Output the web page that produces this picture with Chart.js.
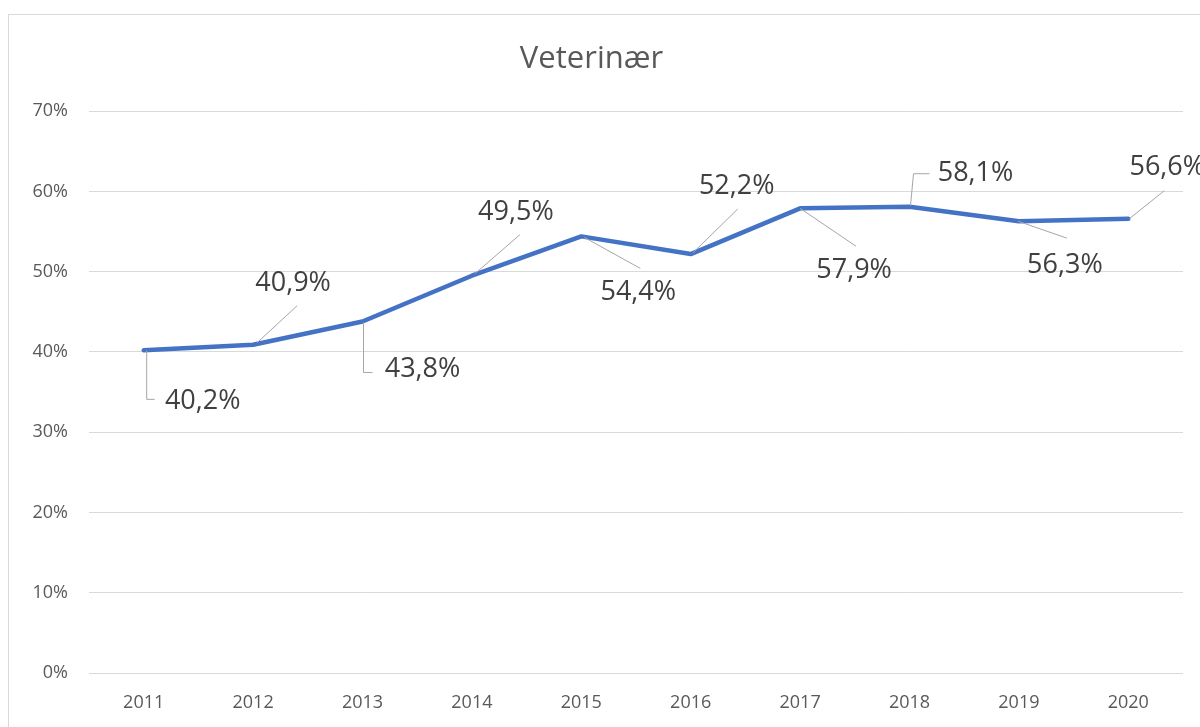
<!DOCTYPE html>
<html>
<head>
<meta charset="utf-8">
<script src="https://cdn.jsdelivr.net/npm/chart.js@4"></script>
<style>
  html, body { margin: 0; padding: 0; background: #fff; overflow: hidden; }
  #wrap { width: 1200px; height: 727px; }
</style>
</head>
<body>
<div id="wrap"><canvas id="chart" width="1200" height="727"></canvas></div>
<script>
// data
const years = ['2011', '2012', '2013', '2014', '2015', '2016', '2017', '2018', '2019', '2020'];
const veterinaer = [40.2, 40.9, 43.8, 49.5, 54.4, 52.2, 57.9, 58.1, 56.3, 56.6];
const yTicks = [0, 10, 20, 30, 40, 50, 60, 70];

// label placement (offset of text centre from the point) and leader line path
const labelOffsets = [[59, 50], [40, -62], [60, 47], [44, -64], [57, 55], [46, -69], [54, 61], [66, -34], [46, 43], [39, -52]];
const leaderPaths = [
    [[3, 0], [3, 49], [11, 49]],
    [[4, -2], [44, -39]],
    [[1, 1], [1, 51], [10, 51]],
    [[3, -2], [48, -41]],
    [[3, 1], [59, 32]],
    [[2, -1], [47, -45]],
    [[0, 0], [56, 38]],
    [[1, -1], [4, -33], [20, -33]],
    [[-1, 0], [48, 17]],
    [[1, 0], [36, -28]]
];

const fmt = v => v.toFixed(1).replace('.', ',') + '%';

const frame = {
    id: 'frame',
    beforeDraw(chart) {
        const ctx = chart.ctx;
        ctx.save();
        ctx.fillStyle = '#fff';
        ctx.fillRect(0, 0, chart.width, chart.height);
        ctx.strokeStyle = '#d9d9d9';
        ctx.lineWidth = 1;
        ctx.strokeRect(8.5, 14.5, 1400, 900);
        ctx.restore();
    }
};

const dataLabels = {
    id: 'dataLabels',
    afterDatasetsDraw(chart) {
        const ctx = chart.ctx;
        const meta = chart.getDatasetMeta(0);
        ctx.save();
        meta.data.forEach((pt, i) => {
            const path = leaderPaths[i];
            ctx.beginPath();
            ctx.strokeStyle = '#a6a6a6';
            ctx.lineWidth = 1;
            path.forEach(([dx, dy], k) => {
                if (k === 0) ctx.moveTo(pt.x + dx, pt.y + dy);
                else ctx.lineTo(pt.x + dx, pt.y + dy);
            });
            ctx.stroke();
            const [ox, oy] = labelOffsets[i];
            ctx.font = '27px "Open Sans"';
            ctx.fillStyle = '#404040';
            ctx.textAlign = 'center';
            ctx.textBaseline = 'middle';
            ctx.fillText(fmt(veterinaer[i]), pt.x + ox, pt.y + oy + 1);
        });
        ctx.restore();
    }
};

new Chart(document.getElementById('chart').getContext('2d'), {
    type: 'line',
    data: {
        labels: years,
        datasets: [{
            data: veterinaer,
            borderColor: '#4472c4',
            borderWidth: 4.5,
            pointRadius: 0,
            tension: 0,
            borderJoinStyle: 'round',
            borderCapStyle: 'round'
        }]
    },
    options: {
        responsive: false,
        animation: false,
        layout: { padding: { left: 0, right: 17, top: 0, bottom: 0 } },
        plugins: {
            legend: { display: false },
            tooltip: { enabled: false },
            title: {
                display: true,
                text: 'Veterinær',
                color: '#595959',
                font: { family: 'Open Sans', size: 31, weight: 'normal' },
                padding: { top: 41, bottom: 33 }
            }
        },
        scales: {
            x: {
                offset: true,
                afterFit: scale => { scale.height = 54; },
                grid: { display: false, drawTicks: false },
                border: { display: false },
                ticks: {
                    color: '#595959',
                    font: { family: 'Open Sans', size: 18 },
                    padding: 19,
                    maxRotation: 0
                }
            },
            y: {
                min: 0,
                max: 70,
                afterBuildTicks: scale => { scale.ticks = yTicks.map(v => ({ value: v })); },
                afterFit: scale => { scale.width = 89; },
                grid: { color: '#d9d9d9', lineWidth: 1, drawTicks: false },
                border: { display: false },
                ticks: {
                    color: '#595959',
                    font: { family: 'Open Sans', size: 18 },
                    padding: 21,
                    callback: v => `${v}%`
                }
            }
        }
    },
    plugins: [frame, dataLabels]
});
</script>
</body>
</html>
